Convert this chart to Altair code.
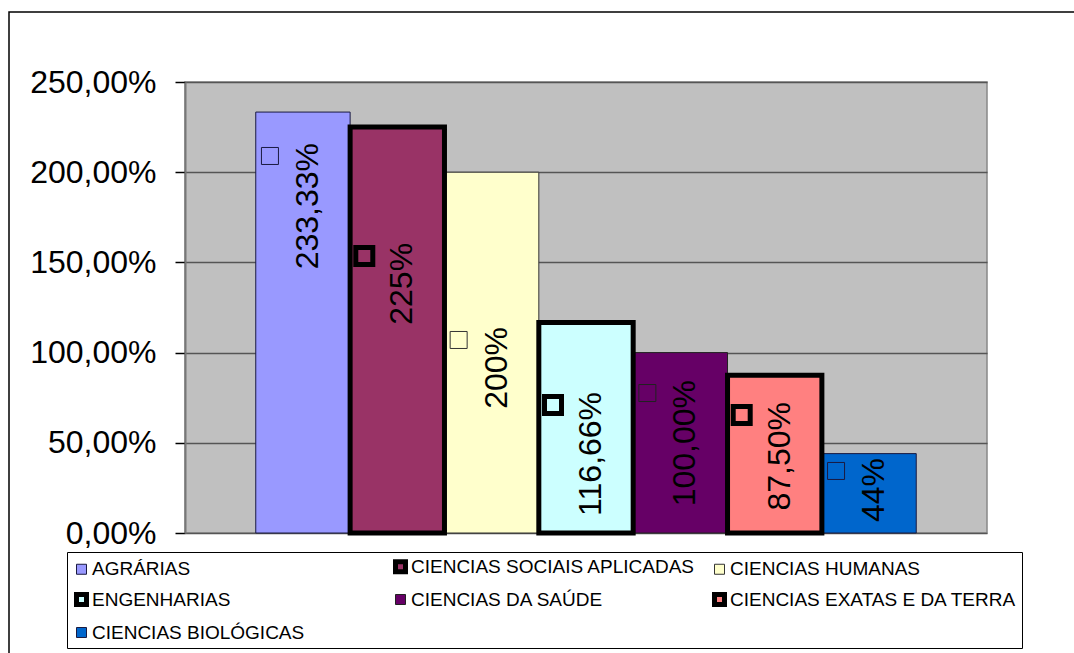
import altair as alt
import pandas as pd

categories = [
    "AGRÁRIAS",
    "CIENCIAS SOCIAIS APLICADAS",
    "CIENCIAS HUMANAS",
    "ENGENHARIAS",
    "CIENCIAS DA SAÚDE",
    "CIENCIAS EXATAS E DA TERRA",
    "CIENCIAS BIOLÓGICAS",
]
values = [233.33, 225, 200, 116.66, 100, 87.5, 44]
value_labels = ["233,33%", "225%", "200%", "116,66%", "100,00%", "87,50%", "44%"]
# where each (rotated) data label ends, in axis units
label_anchor = [216.2, 160.8, 114.2, 78.2, 84.8, 72.6, 41.6]
y_ticks = [0, 50, 100, 150, 200, 250]

fill_colors = ["#9999FF", "#993366", "#FFFFCC", "#CCFFFF", "#660066", "#FF8080", "#0066CC"]
stroke_colors = ["#1a1a40", "black", "#333333", "black", "#222222", "black", "#1a1a40"]
border_widths = [1, 5, 1, 5, 1, 5, 1]

df = pd.DataFrame({"cat": categories, "val": values, "lab": value_labels, "anchor": label_anchor})
thick = [c for c, w in zip(categories, border_widths) if w > 2]
thin = [c for c, w in zip(categories, border_widths) if w <= 2]

FONT = "Liberation Sans"

x_enc = alt.X("cat:N", sort=categories,
              scale=alt.Scale(paddingInner=0, paddingOuter=0.75), axis=None)

y_scale = alt.Scale(domain=[0, 250], nice=False, zero=True)
y_axis = alt.Axis(
    values=y_ticks, title=None,
    labelExpr="replace(format(datum.value, '.2f'), '.', ',') + '%'",
    labelFont=FONT, labelFontSize=32, labelColor="black", labelPadding=19,
    grid=True, gridColor="#555555", gridWidth=1.5,
    tickColor="black", tickSize=10, tickWidth=1.5,
    domainColor="#777777", domainWidth=2,
)


def y_enc(field):
    return alt.Y(field, stack=None, scale=y_scale, axis=y_axis)


legend = alt.Legend(
    title=None, orient="none", legendX=-118, legendY=470, direction="horizontal",
    columns=3, gridAlign="all", columnPadding=6, rowPadding=2, padding=5,
    strokeColor="black", fillColor="white", values=categories,
    labelFont=FONT, labelFontSize=19, labelColor="black", labelLimit=600,
    labelOffset=1, symbolType="square", symbolSize=100,
)


def fill_enc(lg):
    return alt.Fill("cat:N", scale=alt.Scale(domain=categories, range=fill_colors), legend=lg)


def stroke_enc(lg):
    return alt.Stroke("cat:N", scale=alt.Scale(domain=categories, range=stroke_colors), legend=lg)


def sw_enc(lg):
    return alt.StrokeWidth("cat:N", scale=alt.Scale(type="ordinal", domain=categories, range=border_widths), legend=lg)


border = alt.Chart(pd.DataFrame({"k": [0]})).mark_rect(
    fill="transparent", stroke="black", strokeWidth=1.5
).encode(x=alt.value(-176), x2=alt.value(950), y=alt.value(-70), y2=alt.value(650))

bars_thin = alt.Chart(df).transform_filter(
    alt.FieldOneOfPredicate(field="cat", oneOf=thin)
).mark_bar().encode(
    x=x_enc, y=y_enc("val:Q"), fill=fill_enc(legend), stroke=stroke_enc(legend),
    strokeWidth=sw_enc(legend)
)

bars_thick = alt.Chart(df).transform_filter(
    alt.FieldOneOfPredicate(field="cat", oneOf=thick)
).mark_bar().encode(
    x=x_enc, y=y_enc("val:Q"), fill=fill_enc(legend), stroke=stroke_enc(legend),
    strokeWidth=sw_enc(legend)
)

labels = alt.Chart(df).mark_text(
    font=FONT, fontSize=32, angle=270, align="right", baseline="middle",
    color="black", xOffset=5
).encode(x=x_enc, y=y_enc("anchor:Q"), text="lab:N")

keys = alt.Chart(df).mark_point(
    shape="square", filled=True, size=289, opacity=1,
    strokeOpacity=1, xOffset=-33, yOffset=13
).encode(x=x_enc, y=y_enc("anchor:Q"), fill=fill_enc(None), stroke=stroke_enc(None),
         strokeWidth=sw_enc(None))

chart = alt.layer(border, bars_thin, bars_thick, labels, keys).properties(
    width=802, height=451,
    padding={"left": 185, "top": 82, "right": 87, "bottom": 120},
    autosize=alt.AutoSizeParams(type="none"),
    background="white",
).configure_view(fill="#C0C0C0", stroke="#888888", strokeWidth=1.5)

chart.save("out.html", embed_options={"renderer": "svg", "actions": False})
